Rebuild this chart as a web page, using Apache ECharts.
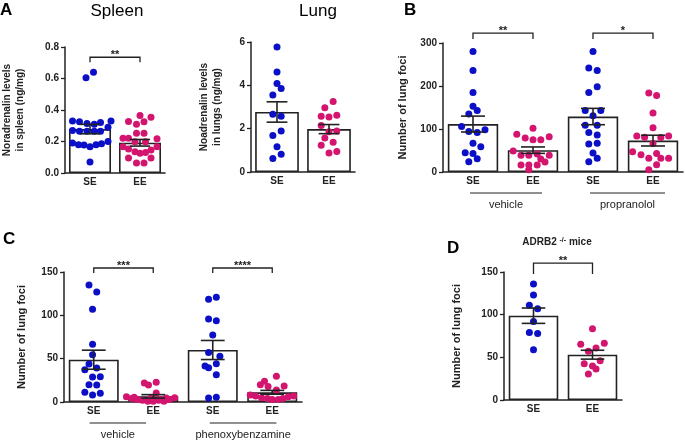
<!DOCTYPE html>
<html>
<head>
<meta charset="utf-8">
<title>Noradrenalin levels and lung foci</title>
<script src="https://cdn.jsdelivr.net/npm/echarts@6/dist/echarts.min.js"></script>
<style>
	html, body { margin: 0; padding: 0; background: #fff; }
	#main { width: 685px; height: 440px; }
</style>
</head>
<body>
<div id="main"></div>
<script>
// dots are [jitter in category units, value]
var spleenCats = ['SE', 'EE'];
var spleenTicks = [0, 0.2, 0.4, 0.6, 0.8];
var spleenSE = [[-0.08,0.604],[0.07,0.64],[-0.35,0.33],[-0.21,0.325],[-0.06,0.315],[0.085,0.31],[0.21,0.32],[0.42,0.33],[0.36,0.29],[-0.35,0.27],[-0.21,0.265],[-0.06,0.265],[0.085,0.265],[0.21,0.265],[-0.35,0.19],[-0.23,0.18],[-0.12,0.177],[0,0.167],[0.12,0.18],[0.23,0.185],[0.36,0.2],[0,0.07]];
var spleenEE = [[0,0.365],[0.22,0.354],[-0.23,0.327],[-0.07,0.31],[0.08,0.325],[-0.07,0.252],[0.08,0.252],[-0.34,0.22],[-0.23,0.22],[0.34,0.217],[-0.1,0.198],[0.11,0.198],[-0.34,0.167],[-0.23,0.152],[-0.1,0.135],[0,0.125],[0.11,0.13],[0.22,0.146],[0.34,0.167],[-0.23,0.096],[0.22,0.096],[-0.07,0.063],[0.08,0.063]];
var spleenMean = [0.279, 0.192];
var spleenSem = [0.03, 0.021];

var lungCats = ['SE', 'EE'];
var lungTicks = [0, 2, 4, 6];
var lungSE = [[0,5.77],[0,4.62],[0,4.08],[0.08,3.85],[-0.08,3.55],[-0.08,2.66],[0.08,2.57],[0.08,1.89],[-0.08,1.68],[0,1.17],[0.08,0.82],[-0.08,0.62]];
var lungEE = [[0.08,3.25],[-0.08,2.97],[-0.15,2.57],[0,2.54],[0.15,2.62],[-0.15,2.15],[0,1.86],[0.15,1.89],[-0.08,1.57],[-0.15,1.23],[0.08,1.37],[0,0.88],[0.15,0.95]];
var lungMean = [2.77, 1.98];
var lungSem = [0.47, 0.21];

var propCats = ['SE', 'EE', 'SE', 'EE'];
var propTicks = [0, 100, 200, 300];
var propVehSE = [[0,280],[0,236],[0,185],[0,153],[-0.07,135],[0.07,143],[-0.19,106],[-0.07,94],[0.07,92],[0.2,98],[0,67],[0.13,59],[-0.13,45],[0,43],[-0.07,24],[0.07,31]];
var propVehEE = [[0,102],[-0.27,88],[-0.13,79],[0,75],[0.13,75],[0.27,82],[-0.33,49],[-0.2,39],[-0.07,39],[0.07,42],[0.27,39],[0.13,30],[0.2,23],[-0.2,16],[-0.07,16],[0.07,16],[-0.07,5]];
var propSE = [[0,280],[-0.07,242],[0.07,236],[0.07,198],[-0.07,185],[-0.13,143],[0.13,143],[0,131],[-0.13,109],[0.07,109],[-0.07,92],[0.07,86],[-0.07,65],[0.07,67],[0,44],[-0.07,24],[0.07,32]];
var propEE = [[-0.07,184],[0.06,178],[0,137],[0,103],[-0.27,84],[-0.14,81],[0.13,80],[0.26,84],[0,66],[-0.34,47],[-0.2,40],[0.06,43],[-0.07,32],[0.13,32],[0.26,32],[0.06,17],[-0.07,5]];
var propMean = [111.5, 50.8, 129, 73];
var propSem = [18.5, 7.5, 19, 12.5];

var phenCats = ['SE', 'EE', 'SE', 'EE'];
var phenTicks = [0, 50, 100, 150];
var phenVehSE = [[-0.08,135],[0.05,127],[-0.02,107],[-0.02,66.5],[-0.02,54.6],[-0.08,43.8],[-0.15,37.3],[0.05,39.2],[-0.02,28.8],[0.11,29.2],[-0.08,20],[0.05,19.6],[-0.15,11.2],[-0.02,8],[0.11,10]];
var phenVehEE = [[-0.15,22],[-0.08,19.6],[0.05,22.7],[0.05,10.4],[-0.45,6],[-0.36,4],[-0.27,3],[-0.18,2],[-0.09,1],[0,1],[0.09,2],[0.18,1],[0.27,3],[0.36,5],[-0.32,5.5],[-0.05,4],[0.13,3],[0.22,4.5]];
var phenSE = [[-0.07,118.5],[0.06,120.8],[-0.07,95.8],[0.06,93.8],[0,77.3],[-0.07,57],[0.12,52.7],[0.06,44.2],[-0.13,41.5],[-0.07,39.6],[0.06,31.5],[-0.07,4.6],[0.06,5.4]];
var phenEE = [[0.07,29.6],[-0.13,23.8],[-0.2,20],[-0.07,18],[0.2,18.5],[0.07,13.8],[-0.37,8],[-0.28,7],[-0.18,5],[-0.08,4],[0,3],[0.1,3],[0.18,4],[0.27,6],[0.36,7]];
var phenMean = [48.8, 6.5, 60, 11.2];
var phenSem = [11, 2, 11, 2.2];

var adrbCats = ['SE', 'EE'];
var adrbTicks = [0, 50, 100, 150];
var adrbSE = [[0,136],[0,123],[-0.07,111],[0.07,107],[0,92],[-0.07,79],[0.07,78],[0,59]];
var adrbEE = [[0,83.6],[-0.2,65.2],[0.2,66.4],[0.06,61],[-0.07,57],[0.13,46],[-0.14,42.6],[0,39.8],[0.06,36.3],[-0.07,30.5]];
var adrbMean = [98.8, 53.1];
var adrbSem = [9, 5.2];

var BLUE = '#0b0fc6';
var PINK = '#d3156f';
var INK = '#222';
var FONT = '"Liberation Sans", Arial, sans-serif';

var panels = [
	{ grid: {left: 62, top: 47, width: 103, height: 126}, cats: spleenCats, ticks: spleenTicks, dec: 1,
	  dots: [spleenSE, spleenEE], mean: spleenMean, sem: spleenSem,
	  yName: 'Noradrenalin levels\nin spleen (ng/mg)', nameGap: 38,
	  sig: [[0, 1, 0.735, '**']], drop: 5 },
	{ grid: {left: 251, top: 42, width: 104, height: 130}, cats: lungCats, ticks: lungTicks, dec: 0,
	  dots: [lungSE, lungEE], mean: lungMean, sem: lungSem,
	  yName: 'Noadrenalin levels\nin lungs (ng/mg)', nameGap: 27,
	  sig: [], drop: 0 },
	{ grid: {left: 443, top: 43, width: 240, height: 129}, cats: propCats, ticks: propTicks, dec: 0,
	  dots: [propVehSE, propVehEE, propSE, propEE], mean: propMean, sem: propSem,
	  yName: 'Number of lung foci', nameGap: 34,
	  sig: [[0, 1, 323, '**'], [2, 3, 323, '*']], drop: 6,
	  under: [[-0.05, 1.15, 'vehicle'], [1.95, 3.2, 'propranolol']] },
	{ grid: {left: 64, top: 272, width: 238, height: 130}, cats: phenCats, ticks: phenTicks, dec: 0,
	  dots: [phenVehSE, phenVehEE, phenSE, phenEE], mean: phenMean, sem: phenSem,
	  yName: 'Number of lung foci', nameGap: 36,
	  sig: [[0, 1, 154.6, '***'], [2, 3, 154.6, '****']], drop: 5,
	  under: [[-0.07, 0.88, 'vehicle'], [1.95, 3.07, 'phenoxybenzamine']] },
	{ grid: {left: 504, top: 272, width: 118, height: 128}, cats: adrbCats, ticks: adrbTicks, dec: 0,
	  dots: [adrbSE, adrbEE], mean: adrbMean, sem: adrbSem,
	  yName: 'Number of lung foci', nameGap: 41,
	  sig: [[0, 1, 160.5, '**']], drop: 11 }
];

var option = {
	animation: false,
	backgroundColor: '#fff',
	textStyle: { fontFamily: FONT },
	grid: [], xAxis: [], yAxis: [], series: [],
	graphic: [
		{ type: 'text', x: 0, y: 2, style: { text: 'A', font: 'bold 17px ' + FONT, fill: '#000' } },
		{ type: 'text', x: 404, y: 2, style: { text: 'B', font: 'bold 17px ' + FONT, fill: '#000' } },
		{ type: 'text', x: 3, y: 231, style: { text: 'C', font: 'bold 17px ' + FONT, fill: '#000' } },
		{ type: 'text', x: 447, y: 240, style: { text: 'D', font: 'bold 17px ' + FONT, fill: '#000' } },
		{ type: 'text', x: 117, y: 3, style: { text: 'Spleen', font: '17px ' + FONT, fill: '#000', align: 'center', textAlign: 'center' } },
		{ type: 'text', x: 318, y: 3, style: { text: 'Lung', font: '17px ' + FONT, fill: '#000', align: 'center', textAlign: 'center' } },
		{ type: 'text', x: 557, y: 237, style: {
			text: 'ADRB2 {s|-/-} mice', font: 'bold 10px ' + FONT, fill: INK, align: 'center', textAlign: 'center',
			rich: { s: { fontSize: 7, fontWeight: 'bold', verticalAlign: 'top', fill: INK } }
		} }
	]
};

panels.forEach(function (p, k) {
	var n = p.cats.length;
	option.grid.push(p.grid);
	option.xAxis.push({
		type: 'category', gridIndex: k, data: p.cats,
		axisLine: { onZero: false, lineStyle: { color: INK, width: 1.5 } },
		axisTick: { alignWithLabel: true, length: 3, lineStyle: { color: INK, width: 1.3 } },
		axisLabel: { fontSize: 10, fontWeight: 'bold', color: INK, margin: 4 }
	});
	option.xAxis.push({ type: 'value', gridIndex: k, min: -0.5, max: n - 0.5, show: false,
		axisLine: { onZero: false } });
	option.yAxis.push({
		type: 'value', gridIndex: k,
		min: p.ticks[0], max: p.ticks[p.ticks.length - 1], interval: p.ticks[1] - p.ticks[0],
		axisLine: { show: true, onZero: false, lineStyle: { color: INK, width: 1.5 } },
		axisTick: { show: true, length: 4, lineStyle: { color: INK, width: 1.3 } },
		splitLine: { show: false },
		axisLabel: { fontSize: 10, fontWeight: 'bold', color: INK, margin: 6,
			formatter: function (v) { return v.toFixed(p.dec); } },
		name: p.yName, nameLocation: 'middle', nameGap: p.nameGap, nameRotate: 90,
		nameTextStyle: { fontSize: p.yName.indexOf('\n') > 0 ? 10 : 11, fontWeight: 'bold', color: INK, lineHeight: 13 }
	});
	var cx = 2 * k, vx = 2 * k + 1;

	// bars = group means
	option.series.push({
		type: 'bar', xAxisIndex: cx, yAxisIndex: k, data: p.mean, barWidth: '84%', z: 1,
		itemStyle: { color: '#fff', borderColor: INK, borderWidth: 1.6 }
	});
	// individual animals
	p.dots.forEach(function (pts, g) {
		option.series.push({
			type: 'scatter', xAxisIndex: vx, yAxisIndex: k, z: 2,
			symbolSize: 7, itemStyle: { color: g % 2 ? PINK : BLUE, opacity: 1 },
			data: pts.map(function (d) { return [g + d[0], d[1]]; })
		});
	});
	// SEM error bars
	option.series.push({
		type: 'custom', xAxisIndex: vx, yAxisIndex: k, z: 3,
		data: p.mean.map(function (m, i) { return [i, m, p.sem[i]]; }),
		renderItem: function (params, api) {
			var i = api.value(0), m = api.value(1), s = api.value(2);
			var top = api.coord([i, m + s]), bot = api.coord([i, m - s]);
			var tl = api.coord([i - 0.2, m + s]), tr = api.coord([i + 0.2, m + s]);
			var bl = api.coord([i - 0.2, m - s]), br = api.coord([i + 0.2, m - s]);
			var st = { stroke: INK, lineWidth: 1.6 };
			return { type: 'group', children: [
				{ type: 'line', shape: { x1: top[0], y1: top[1], x2: bot[0], y2: bot[1] }, style: st },
				{ type: 'line', shape: { x1: tl[0], y1: tl[1], x2: tr[0], y2: tr[1] }, style: st },
				{ type: 'line', shape: { x1: bl[0], y1: bl[1], x2: br[0], y2: br[1] }, style: st }
			] };
		}
	});
	// significance brackets
	if (p.sig.length) {
		option.series.push({
			type: 'custom', xAxisIndex: vx, yAxisIndex: k, z: 3, clip: false,
			data: p.sig.map(function (s) { return [s[0], s[1], s[2]]; }),
			renderItem: function (params, api) {
				var a = api.coord([api.value(0), api.value(2)]);
				var b = api.coord([api.value(1), api.value(2)]);
				var d = p.drop;
				return { type: 'group', children: [
					{ type: 'polyline', shape: { points: [[a[0], a[1] + d], [a[0], a[1]], [b[0], b[1]], [b[0], b[1] + d]] },
					  style: { stroke: INK, lineWidth: 1.3, fill: null } },
					{ type: 'text', x: (a[0] + b[0]) / 2, y: a[1] - 2,
					  style: { text: p.sig[params.dataIndex][3], font: 'bold 11px ' + FONT, fill: INK,
					           align: 'center', verticalAlign: 'middle', textAlign: 'center', textVerticalAlign: 'middle' } }
				] };
			}
		});
	}
	// treatment group lines under the axis
	if (p.under) {
		option.series.push({
			type: 'custom', xAxisIndex: vx, yAxisIndex: k, z: 3, clip: false,
			data: p.under.map(function (u) { return [u[0], u[1]]; }),
			renderItem: function (params, api) {
				var a = api.coord([api.value(0), 0]);
				var b = api.coord([api.value(1), 0]);
				return { type: 'group', children: [
					{ type: 'line', shape: { x1: a[0], y1: a[1] + 21, x2: b[0], y2: b[1] + 21 },
					  style: { stroke: INK, lineWidth: 1.2 } },
					{ type: 'text', x: (a[0] + b[0]) / 2, y: a[1] + 33,
					  style: { text: p.under[params.dataIndex][2], font: '11px ' + FONT, fill: INK,
					           align: 'center', verticalAlign: 'middle', textAlign: 'center', textVerticalAlign: 'middle' } }
				] };
			}
		});
	}
});

var chart = echarts.init(document.getElementById('main'));
chart.setOption(option);
window.onresize = function () { chart.resize(); };
</script>
</body>
</html>
